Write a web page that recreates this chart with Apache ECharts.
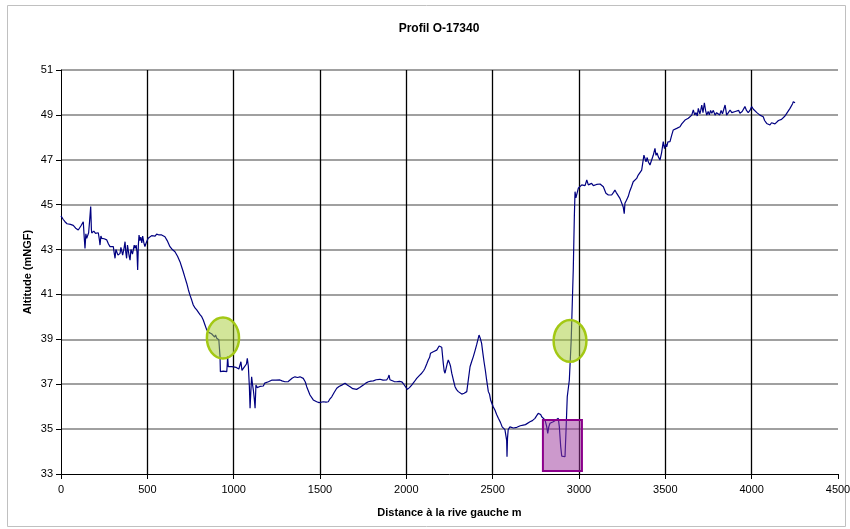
<!DOCTYPE html>
<html>
<head>
<meta charset="utf-8">
<script src="https://cdn.jsdelivr.net/npm/echarts@6/dist/echarts.min.js"></script>
<style>
html,body{margin:0;padding:0;background:#fff;}
#chart{width:850px;height:529px;}
</style>
</head>
<body>
<div id="chart"></div>
<script>
// ---- data ----
const titleText = 'Profil O-17340';
const xAxisName = 'Distance à la rive gauche m';
const yAxisName = 'Altitude (mNGF)';
const xTicks = [0, 500, 1000, 1500, 2000, 2500, 3000, 3500, 4000, 4500];
const yTicks = [33, 35, 37, 39, 41, 43, 45, 47, 49, 51];

const distances = [
0,12,23,35,42,55,71,85,100,115,129,134,139,144,149,160,166,172,176,178,190,200,216,222,226,231,236,250,265,275,284,295,303,308,313,318,324,330,342,347,352,357,361,366,371,375,380,385,390,395,400,405,409,414,419,424,429,435,440,444,448,452,457,462,468,473,480,486,491,496,505,515,525,535,545,554,560,568,575,583,592,602,615,631,645,660,675,689,700,708,718,728,738,747,757,766,776,786,795,805,815,824,834,844,850,858,863,872,882,890,895,902,908,914,917,921,923,940,960,963,965,969,980,989,1000,1015,1030,1037,1042,1048,1060,1066,1074,1079,1085,1091,1095,1099,1104,1109,1114,1120,1124,1129,1136,1143,1152,1162,1172,1180,1191,1201,1210,1220,1230,1245,1255,1268,1280,1290,1297,1307,1316,1326,1340,1355,1370,1384,1395,1403,1407,1415,1423,1442,1461,1470,1481,1495,1505,1519,1535,1548,1558,1568,1582,1597,1610,1626,1645,1660,1674,1690,1712,1730,1751,1765,1780,1795,1809,1825,1847,1865,1886,1895,1900,1905,1915,1930,1944,1960,1973,1985,1996,2006,2018,2031,2045,2060,2075,2089,2100,2108,2118,2127,2135,2140,2148,2156,2165,2176,2180,2185,2190,2195,2200,2205,2214,2219,2224,2230,2236,2243,2250,2256,2263,2272,2282,2291,2301,2311,2321,2335,2350,2359,2369,2378,2388,2398,2407,2415,2421,2428,2436,2443,2450,2458,2465,2475,2482,2488,2494,2503,2513,2523,2533,2545,2555,2562,2571,2577,2581,2583,2586,2590,2600,2610,2620,2630,2640,2648,2660,2670,2677,2690,2700,2716,2730,2745,2755,2764,2770,2778,2784,2793,2803,2813,2819,2825,2832,2851,2865,2880,2886,2894,2900,2919,2925,2932,2944,2955,2967,2973,2977,2982,2987,2996,3005,3016,3025,3035,3045,3054,3063,3073,3083,3093,3102,3112,3122,3131,3141,3156,3170,3180,3189,3200,3208,3215,3221,3237,3247,3256,3262,3266,3275,3285,3294,3304,3314,3324,3334,3343,3353,3363,3369,3376,3382,3388,3395,3401,3411,3421,3430,3440,3446,3452,3459,3469,3478,3488,3495,3502,3508,3515,3527,3537,3546,3556,3566,3575,3585,3595,3604,3614,3624,3633,3643,3653,3662,3670,3678,3685,3691,3700,3705,3711,3718,3726,3733,3740,3748,3755,3762,3769,3778,3788,3797,3807,3815,3823,3831,3840,3846,3851,3855,3865,3875,3885,3894,3905,3915,3925,3932,3945,3955,3961,3970,3980,3990,4000,4010,4019,4030,4040,4048,4058,4067,4075,4087,4097,4106,4115,4125,4135,4145,4155,4164,4173,4183,4193,4203,4212,4222,4232,4237,4241,4251
];
const altitudes = [
44.5,44.35,44.24,44.15,44.12,44.12,44.08,43.95,43.87,44.05,44.24,43.6,43.05,43.7,43.5,43.75,44.3,44.92,43.9,43.74,43.82,43.72,43.75,43.45,43.2,43.6,43.5,43.48,43.43,43.25,43.13,43.15,43.13,42.85,42.61,43.0,43.0,42.75,42.83,43.1,43.05,42.75,42.68,43.1,43.35,42.9,42.61,43.2,43.15,42.7,42.53,43.0,43.05,42.8,43.0,43.2,43.05,43.2,42.9,42.09,43.2,43.65,43.4,43.55,43.3,43.6,43.3,43.13,43.25,43.35,43.5,43.57,43.62,43.65,43.6,43.69,43.75,43.65,43.72,43.65,43.6,43.57,43.4,43.13,43.0,42.9,42.7,42.46,42.2,42.01,41.75,41.5,41.2,40.97,40.75,40.53,40.4,40.31,40.23,40.1,40.01,39.86,39.64,39.42,39.5,39.3,39.34,39.25,39.19,39.1,39.2,39.05,39.12,38.98,38.9,38.23,37.56,37.58,37.56,37.9,38.23,37.78,37.8,37.78,37.72,37.75,37.68,37.63,38.0,37.62,37.75,37.78,37.9,38.15,37.8,36.89,35.93,36.6,37.33,37.0,36.74,36.3,35.93,36.96,36.85,36.82,36.9,36.96,36.92,37.05,37.11,37.11,37.15,37.18,37.19,37.18,37.2,37.19,37.15,37.08,37.11,37.04,37.12,37.19,37.28,37.33,37.3,37.33,37.3,37.26,37.33,37.1,36.89,36.52,36.3,36.22,36.22,36.18,36.24,36.22,36.2,36.22,36.35,36.44,36.63,36.82,36.9,36.96,37.04,36.95,36.89,36.8,36.77,36.85,36.96,37.05,37.11,37.14,37.15,37.2,37.22,37.18,37.19,37.3,37.41,37.2,37.15,37.12,37.11,37.13,37.11,37.0,36.92,36.77,36.85,36.96,37.1,37.26,37.38,37.49,37.6,37.71,37.9,38.08,38.2,38.38,38.3,38.45,38.4,38.52,38.45,38.6,38.7,38.75,38.7,38.65,37.93,37.6,37.49,37.5,37.9,38.08,37.95,37.8,37.49,37.2,36.89,36.76,36.67,36.6,36.56,36.6,36.67,36.74,37.78,38.0,38.23,38.5,38.75,39.0,39.19,39.05,38.82,38.4,38.0,37.6,37.19,36.67,36.55,36.3,36.3,36.0,35.85,35.65,35.48,35.3,35.1,35.03,34.98,34.96,34.5,33.77,34.6,34.98,35.1,35.11,35.05,35.12,35.08,35.11,35.15,35.12,35.18,35.2,35.25,35.33,35.38,35.48,35.6,35.7,35.78,35.65,35.55,35.5,35.41,35.11,34.81,35.1,35.26,35.33,35.4,35.48,35.11,34.22,33.8,33.77,34.96,36.44,37.19,39.0,42.16,44.46,45.58,45.3,45.36,45.73,45.7,45.88,45.9,45.85,46.1,45.88,45.92,45.95,45.85,45.88,45.9,45.88,45.92,45.95,45.8,45.51,45.43,45.45,45.43,45.55,45.65,45.55,45.51,45.28,45.21,44.9,44.6,45.06,45.2,45.36,45.6,45.8,46.02,46.1,46.17,46.32,46.4,46.54,46.62,47.21,47.29,46.91,47.1,46.91,46.77,46.8,47.2,47.51,47.2,47.3,47.14,46.99,47.3,47.81,47.5,47.7,47.58,47.8,47.81,48.1,48.33,48.3,48.4,48.45,48.47,48.6,48.55,48.77,48.7,48.85,48.9,48.99,49.22,49.0,49.1,48.95,49.29,49.05,49.2,49.44,49.1,49.54,49.2,48.99,49.15,49.0,49.2,49.07,49.2,48.99,49.1,49.14,49.0,49.2,49.05,49.1,49.44,49.2,48.99,49.1,49.22,49.1,49.07,49.15,49.1,49.2,49.07,49.15,49.2,49.37,49.2,49.1,49.2,49.37,49.25,49.22,49.1,49.05,48.99,48.95,48.92,48.75,48.62,48.7,48.55,48.65,48.7,48.6,48.62,48.75,48.77,48.8,48.85,48.95,49.07,49.15,49.29,49.37,49.5,49.59,49.54
];
// highlight ellipses: [centerDistance, centerAltitude, radiusDistance, radiusAltitude]
const highlightEllipses = [
  [938, 39.06, 93, 0.91],
  [2948, 38.93, 95, 0.93]
];
// highlight box: [distanceFrom, altitudeFrom, distanceTo, altitudeTo]
const highlightBoxes = [
  [2791, 33.13, 3017, 35.41]
];

// ---- chart ----
const profile = distances.map((d, i) => [d, altitudes[i]]);
const chart = echarts.init(document.getElementById('chart'), null, {renderer: 'canvas'});
const FONT = '"Liberation Sans", Arial, sans-serif';

chart.setOption({
  animation: false,
  backgroundColor: '#ffffff',
  graphic: [{
    type: 'rect', silent: true, z: -10,
    shape: {x: 7.5, y: 5.5, width: 838, height: 521},
    style: {fill: 'none', stroke: '#c0c0c0', lineWidth: 1}
  }],
  title: {
    text: titleText, left: 434, top: 18, textAlign: 'center',
    textStyle: {fontFamily: FONT, fontSize: 12, fontWeight: 'bold', color: '#000'}
  },
  grid: {left: 61, right: 12, top: 70, bottom: 55, containLabel: false, outerBoundsMode: 'none'},
  xAxis: {
    type: 'value', min: xTicks[0], max: xTicks[xTicks.length - 1], interval: 500,
    name: xAxisName, nameLocation: 'middle', nameGap: 33, nameMoveOverlap: false,
    nameTextStyle: {fontFamily: FONT, fontSize: 11, fontWeight: 'bold', color: '#000'},
    axisLine: {show: true, onZero: false, lineStyle: {color: '#000', width: 1}},
    axisTick: {show: true, length: 5, lineStyle: {color: '#000'}},
    axisLabel: {fontFamily: FONT, fontSize: 11, color: '#000', margin: 10,
      formatter: function (v) { return String(v); }},
    splitLine: {show: true, showMinLine: false, showMaxLine: false, lineStyle: {color: '#000', width: 1.3}}
  },
  yAxis: {
    type: 'value', min: yTicks[0], max: yTicks[yTicks.length - 1], interval: 2,
    name: yAxisName, nameLocation: 'middle', nameGap: 28, nameRotate: 90, nameMoveOverlap: false,
    nameTextStyle: {fontFamily: FONT, fontSize: 11, fontWeight: 'bold', color: '#000'},
    axisLine: {show: true, onZero: false, lineStyle: {color: '#000', width: 1}},
    axisTick: {show: true, length: 5, lineStyle: {color: '#000'}},
    axisLabel: {fontFamily: FONT, fontSize: 11, color: '#000', margin: 8,
      formatter: function (v) { return String(v); }},
    splitLine: {show: true, showMinLine: false, lineStyle: {color: '#808080', width: 1.5}}
  },
  series: [
    {
      type: 'line', data: profile, showSymbol: false, symbol: 'none',
      lineStyle: {color: '#000080', width: 1.2}, z: 2
    },
    {
      type: 'custom', coordinateSystem: 'cartesian2d', z: 5, clip: false,
      data: highlightEllipses,
      encode: {x: 0, y: 1},
      renderItem: function (params, api) {
        const c = api.coord([api.value(0), api.value(1)]);
        const s = api.size([api.value(2), api.value(3)]);
        return {
          type: 'ellipse',
          shape: {cx: c[0], cy: c[1], rx: s[0], ry: s[1]},
          style: {fill: 'rgba(166,204,51,0.5)', stroke: '#a3c814', lineWidth: 2.5}
        };
      }
    },
    {
      type: 'custom', coordinateSystem: 'cartesian2d', z: 5, clip: false,
      data: highlightBoxes,
      encode: {x: [0, 2], y: [1, 3]},
      renderItem: function (params, api) {
        const p1 = api.coord([api.value(0), api.value(3)]);
        const p2 = api.coord([api.value(2), api.value(1)]);
        return {
          type: 'rect',
          shape: {x: p1[0], y: p1[1], width: p2[0] - p1[0], height: p2[1] - p1[1]},
          style: {fill: 'rgba(153,51,153,0.5)', stroke: '#8b008b', lineWidth: 2}
        };
      }
    }
  ]
});
</script>
</body>
</html>
